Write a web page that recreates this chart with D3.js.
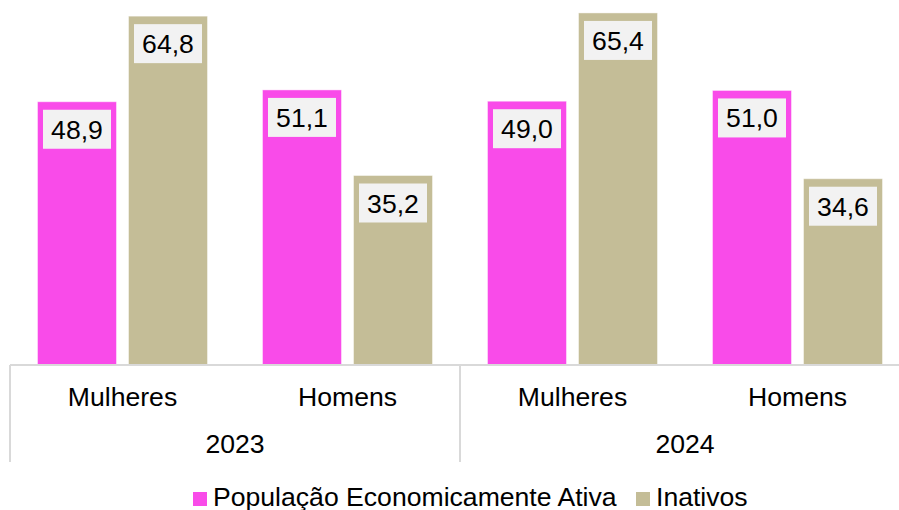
<!DOCTYPE html>
<meta charset="utf-8">
<style>
    html, body {
        margin: 0;
        padding: 0;
        background: #fff;
    }
    svg text {
        font-family: "Liberation Sans", Arial, sans-serif;
        font-size: 26.6px;
        fill: #000;
    }
</style>
<body>
<svg id="chart" width="899" height="510"></svg>
<script src="https://cdn.jsdelivr.net/npm/d3@7"></script>
<script>
    // data
    var years = ["2023", "2024"];
    var groups = ["Mulheres", "Homens"];
    var series = ["População Economicamente Ativa", "Inativos"];
    var colors = ["#F94BE9", "#C4BD97"];

    // per series: [Mulheres, Homens]
    var pea2023 = [48.9, 51.1];
    var inativos2023 = [64.8, 35.2];
    var pea2024 = [49.0, 51.0];
    var inativos2024 = [65.4, 34.6];

    var values = {
        "2023": [pea2023, inativos2023],
        "2024": [pea2024, inativos2024]
    };

    var rows = [];
    years.forEach(function(yr) {
        groups.forEach(function(g, gi) {
            series.forEach(function(s, si) {
                rows.push({year: yr, group: g, series: s, si: si, value: values[yr][si][gi]});
            });
        });
    });

    var baseline = 365;
    var svg = d3.select("#chart");

    var x0 = d3.scaleBand().domain(years).range([10, 910]);
    var x1 = d3.scaleBand().domain(groups).range([0, x0.bandwidth()]);
    var x2 = d3.scaleBand().domain(series).range([0, x1.bandwidth()])
        .paddingInner(0.132).paddingOuter(0.302);
    var y = d3.scaleLinear().domain([0, 67.8]).range([baseline, 0]);

    var fmt = function(v) { return d3.format(".1f")(v).replace(".", ","); };

    // bars
    var bar = svg.append("g").selectAll("g")
        .data(rows)
        .enter().append("g")
        .attr("transform", function(d) {
            return "translate(" + (x0(d.year) + x1(d.group) + x2(d.series)) + ",0)";
        });

    bar.append("rect")
        .attr("x", 0)
        .attr("y", function(d) { return y(d.value); })
        .attr("width", x2.bandwidth())
        .attr("height", function(d) { return baseline - y(d.value); })
        .attr("fill", function(d) { return colors[d.si]; })
        .attr("stroke", "rgba(255,255,255,0.45)")
        .attr("stroke-width", 1);

    // value labels in light boxes
    bar.append("rect")
        .attr("x", x2.bandwidth() / 2 - 34)
        .attr("y", function(d) { return y(d.value) + 8; })
        .attr("width", 68)
        .attr("height", 39)
        .attr("fill", "#F2F2F2");

    bar.append("text")
        .attr("x", x2.bandwidth() / 2)
        .attr("y", function(d) { return y(d.value) + 8 + 29; })
        .attr("text-anchor", "middle")
        .text(function(d) { return fmt(d.value); });

    // axis
    var axis = svg.append("g")
        .attr("stroke", "#D9D9D9")
        .attr("stroke-width", 1.5)
        .attr("shape-rendering", "crispEdges");

    axis.append("line")
        .attr("x1", 10).attr("x2", 910)
        .attr("y1", baseline).attr("y2", baseline);

    axis.selectAll("line.div")
        .data(years.concat(["end"]))
        .enter().append("line")
        .attr("class", "div")
        .attr("x1", function(d) { return d === "end" ? x0.range()[1] : x0(d); })
        .attr("x2", function(d) { return d === "end" ? x0.range()[1] : x0(d); })
        .attr("y1", baseline)
        .attr("y2", 462);

    // category labels
    var cats = [];
    years.forEach(function(yr) {
        groups.forEach(function(g) { cats.push({year: yr, group: g}); });
    });

    svg.append("g").selectAll("text")
        .data(cats)
        .enter().append("text")
        .attr("x", function(d) { return x0(d.year) + x1(d.group) + x1.bandwidth() / 2; })
        .attr("y", 406)
        .attr("text-anchor", "middle")
        .text(function(d) { return d.group; });

    svg.append("g").selectAll("text")
        .data(years)
        .enter().append("text")
        .attr("x", function(d) { return x0(d) + x0.bandwidth() / 2; })
        .attr("y", 453)
        .attr("text-anchor", "middle")
        .text(function(d) { return d; });

    // legend
    var legendX = [193, 636];
    var legend = svg.append("g").selectAll("g")
        .data(series)
        .enter().append("g")
        .attr("transform", function(d, i) { return "translate(" + legendX[i] + ",492)"; });

    legend.append("rect")
        .attr("width", 14)
        .attr("height", 14)
        .attr("fill", function(d, i) { return colors[i]; });

    legend.append("text")
        .attr("x", 20)
        .attr("y", 14)
        .text(function(d) { return d; });
</script>
</body>
